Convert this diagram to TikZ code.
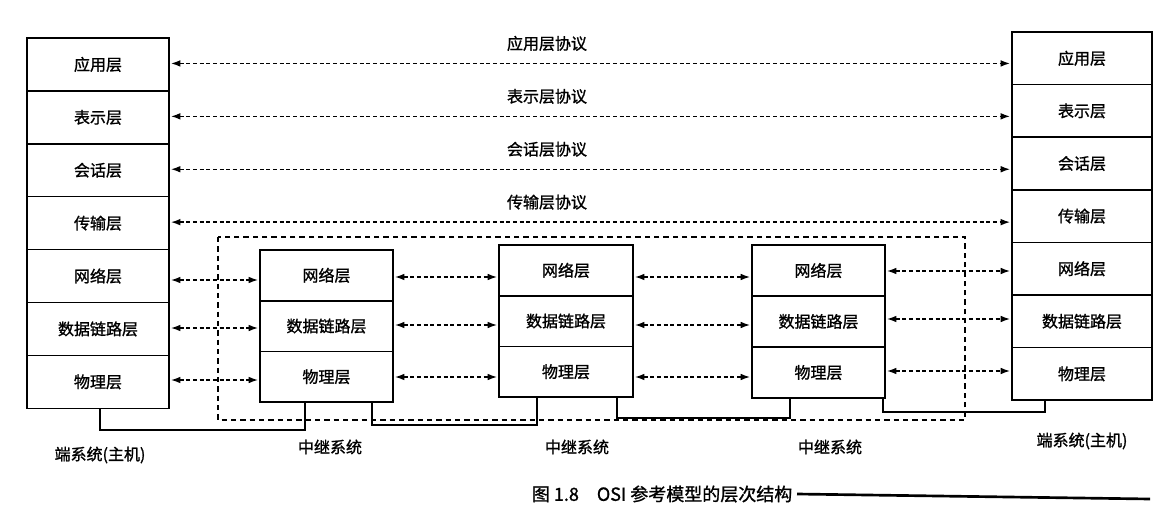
\documentclass[tikz,border=0pt]{standalone}
\usepackage{fontspec}
\setmainfont[FakeBold=1.2]{Noto Sans CJK SC}
\usetikzlibrary{arrows.meta}
\begin{document}
\begin{tikzpicture}[x=0.75pt,y=-0.75pt,
 prot/.style={dash pattern=on 3pt off 2pt,line width=1pt,{Latex[length=7pt,width=5pt]}-{Latex[length=7pt,width=5pt]}},
 wire/.style={line width=0.8pt},
 lbl/.style={font=\fontsize{12}{14}\selectfont}]
\useasboundingbox (0,0) rectangle (1166,513);
\newcommand{\stackbox}[6]{% name, x1, x2, ytop, h, list
 \foreach \t [count=\i] in {#6}{
  \draw[line width=1.2pt] (#2,{#4+(\i-1)*#5}) rectangle (#3,{#4+\i*#5});
  \node[lbl] (#1\i) at ({(#2+#3)/2},{#4+(\i-0.5)*#5}) {\t};}}
\stackbox{L}{27}{169}{38}{52.9}{应用层,表示层,会话层,传输层,网络层,数据链路层,物理层}
\stackbox{R}{1012}{1152}{32}{52.6}{应用层,表示层,会话层,传输层,网络层,数据链路层,物理层}
\stackbox{A}{260}{393}{250}{50.7}{网络层,数据链路层,物理层}
\stackbox{B}{499}{633}{245}{50.7}{网络层,数据链路层,物理层}
\stackbox{C}{752}{885}{245}{51}{网络层,数据链路层,物理层}
% protocol arrows
\foreach \i/\t in {1/应用层协议,2/表示层协议,3/会话层协议,4/传输层协议}{
 \coordinate (pl\i) at (171,{38+(\i-0.5)*52.9-1});
 \coordinate (pr\i) at (1010,{38+(\i-0.5)*52.9-1});
 \draw[prot] (pl\i) -- (pr\i);
 \node[lbl] at (547,{38+(\i-0.5)*52.9-21}) {\t};}
% lower arrows
\foreach \i/\y in {1/280,2/328,3/380}{
 \coordinate (a\i) at (171,\y); \coordinate (b\i) at (258,\y);
 \draw[prot] (a\i) -- (b\i);
 \coordinate (c\i) at (395,\y-3); \coordinate (d\i) at (497,\y-3);
 \draw[prot] (c\i) -- (d\i);
 \coordinate (e\i) at (635,\y-3); \coordinate (f\i) at (750,\y-3);
 \draw[prot] (e\i) -- (f\i);
 \coordinate (g\i) at (887,\y-9); \coordinate (h\i) at (1010,\y-9);
 \draw[prot] (g\i) -- (h\i);}
% dashed frame
\draw[dash pattern=on 4pt off 3pt,line width=1pt] (218,237) rectangle (965,420);
% wires
\draw[wire] (100,408) |- (305,430) -- (305,402);
\draw[wire] (372,402) |- (537,425) -- (537,397);
\draw[wire] (617,397) |- (790,418) -- (790,398);
\draw[wire] (883,398) |- (1045,412) -- (1045,400);
\node[lbl] (t1) at (100,455) {端系统(主机)};
\node[lbl] (t2) at (330,447) {中继系统};
\node[lbl] (t3) at (577,447) {中继系统};
\node[lbl] (t4) at (830,447) {中继系统};
\node[lbl] (t5) at (1082,441) {端系统(主机)};
\node[lbl,font=\fontsize{13.5}{15}\selectfont,anchor=east] (cap) at (797,494) {图 1.8\quad OSI 参考模型的层次结构};
\draw[line width=2pt] (cap.east) -- (1150,499);
\end{tikzpicture}
\end{document}
